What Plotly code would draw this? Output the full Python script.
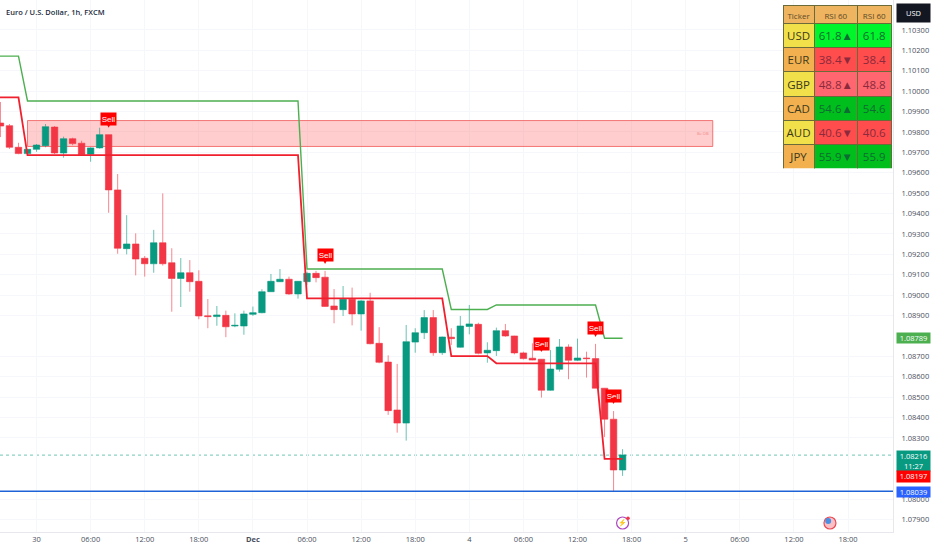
import plotly.graph_objects as go

# hourly bars, index 0 is Nov 30 00:00 (weekend is collapsed like on the source chart)
bar_idx = list(range(-4, 66))
opens = [1.09844,1.09831,1.09725,1.09694,1.09715,1.09733,1.09824,1.09697,1.09767,1.09745,
         1.09691,1.09722,1.09787,1.09516,1.09228,1.09251,1.09181,1.09154,1.09257,1.09159,
         1.09082,1.09110,1.09068,1.08899,1.08895,1.08901,1.08849,1.08849,1.08906,1.08914,
         1.09017,1.09066,1.09078,1.09006,1.09066,1.09107,1.09088,1.08947,1.08929,1.08980,
         1.08908,1.08972,1.08764,1.08672,1.08437,1.08373,1.08770,1.08816,1.08890,1.08718,
         1.08794,1.08745,1.08847,1.08857,1.08717,1.08728,1.08826,1.08800,1.08717,1.08691,
         1.08686,1.08534,1.08637,1.08746,1.08681,1.08692,1.08689,1.08544,1.08392,1.08143]
highs = [1.09947,1.09839,1.09747,1.09715,1.09741,1.09839,1.09829,1.09777,1.09772,1.09757,
         1.09725,1.09821,1.09787,1.09594,1.09392,1.09303,1.09192,1.09320,1.09499,1.09230,
         1.09182,1.09172,1.09122,1.08981,1.08947,1.08924,1.08911,1.08924,1.08944,1.09029,
         1.09104,1.09128,1.09091,1.09069,1.09115,1.09119,1.09119,1.09030,1.09045,1.09037,
         1.08976,1.09012,1.08843,1.08705,1.08663,1.08854,1.08838,1.08927,1.08927,1.08797,
         1.08838,1.08898,1.08952,1.08865,1.08769,1.08841,1.08859,1.08801,1.08723,1.08764,
         1.08687,1.08731,1.08785,1.08759,1.08787,1.08723,1.08761,1.08545,1.08432,1.08245]
lows = [1.09775,1.09717,1.09691,1.09687,1.09703,1.09725,1.09692,1.09674,1.09735,1.09686,
        1.09654,1.09718,1.09404,1.09203,1.09200,1.09097,1.09091,1.09110,1.09145,1.08919,
        1.08942,1.09017,1.08882,1.08838,1.08850,1.08794,1.08843,1.08806,1.08898,1.08911,
        1.09016,1.09065,1.09001,1.08983,1.09050,1.09063,1.08943,1.08862,1.08898,1.08852,
        1.08826,1.08759,1.08666,1.08413,1.08326,1.08287,1.08718,1.08785,1.08703,1.08707,
        1.08756,1.08743,1.08808,1.08710,1.08669,1.08702,1.08796,1.08710,1.08685,1.08681,
        1.08498,1.08532,1.08625,1.08588,1.08677,1.08596,1.08544,1.08305,1.08037,1.08114]
closes = [1.09829,1.09725,1.09694,1.09715,1.09736,1.09826,1.09697,1.09767,1.09743,1.09689,
          1.09722,1.09787,1.09516,1.09230,1.09251,1.09177,1.09154,1.09257,1.09154,1.09082,
          1.09110,1.09066,1.08898,1.08895,1.08903,1.08845,1.08852,1.08908,1.08914,1.09017,
          1.09068,1.09078,1.09006,1.09068,1.09107,1.09086,1.08945,1.08929,1.08980,1.08908,
          1.08972,1.08762,1.08671,1.08434,1.08373,1.08772,1.08816,1.08890,1.08718,1.08795,
          1.08787,1.08849,1.08859,1.08715,1.08730,1.08826,1.08800,1.08717,1.08689,1.08682,
          1.08534,1.08638,1.08746,1.08681,1.08692,1.08689,1.08544,1.08392,1.08143,1.08217]

# stop lines
line_idx = [-5,-2,-1,29,30,45,46,50,51,62,63,65]
green_line = [1.10172,1.10172,1.09952,1.09952,1.09128,1.09128,1.08930,1.08930,1.08952,1.08952,1.08789,1.08789]
red_line = [1.09970,1.09970,1.09687,1.09687,1.08984,1.08984,1.08701,1.08701,1.08666,1.08666,1.08197,1.08197]

# sell signals
sell_idx = [8,32,56,62,64]
sell_high = [1.09787,1.09119,1.08687,1.08761,1.08432]

# order block zone
zone_start, zone_end = -1, 75
zone_top, zone_bottom = 1.09856, 1.09729

last_price = 1.08216
blue_level = 1.08039

tick_idx = [0,6,12,18,24,30,36,42,48,54,60,66,72,78,84,90]
tick_text = ["30","06:00","12:00","18:00","<b>Dec</b>","06:00","12:00","18:00","4","06:00","12:00","18:00","5","06:00","12:00","18:00"]
# 1.081, 1.082 and 1.088 sit behind the price tags
price_ticks = [1.079,1.080,1.083,1.084,1.085,1.086,1.087,1.089,1.090,1.091,1.092,1.093,1.094,1.095,1.096,1.097,1.098,1.099,1.100,1.101,1.102,1.103]

tickers = ["USD","EUR","GBP","CAD","AUD","JPY"]
rsi_arrow = ["61.8▲","38.4▼","48.8▲","54.6▲","40.6▼","55.9▼"]
rsi_plain = ["61.8","38.4","48.8","54.6","40.6","55.9"]
ticker_fill = ["#f2e04a","#f2b04f","#f2e04a","#f2b04f","#f2e04a","#f2b04f"]
rsi_fill = ["#00f52a","#ff4d4d","#ff6670","#00bf1c","#ff4d4d","#00bf1c"]
rsi_text = ["#0d6b33","#8a2a3c","#8a2a3c","#0d6b33","#8a2a3c","#0d6b33"]

FONT = "Open Sans"
GRID = "#f6f7fa"

fig = go.Figure()

fig.add_trace(go.Candlestick(
    x=bar_idx, open=opens, high=highs, low=lows, close=closes,
    increasing=dict(line=dict(color="rgba(8,153,129,0.6)", width=1), fillcolor="#089981"),
    decreasing=dict(line=dict(color="rgba(242,54,69,0.6)", width=1), fillcolor="#f23645"),
    whiskerwidth=0, showlegend=False,
))
fig.add_trace(go.Scatter(x=line_idx, y=green_line, mode="lines", line=dict(color="#4caf50", width=1.4), showlegend=False))
fig.add_trace(go.Scatter(x=line_idx, y=red_line, mode="lines", line=dict(color="#f0202e", width=1.8), showlegend=False))

# events on the bottom of the pane
fig.add_trace(go.Scatter(x=[65], y=[1.07883], mode="markers+text", text=["⚡"], textposition="middle center",
                         textfont=dict(size=7, color="#ab47bc"),
                         marker=dict(size=12, color="white", line=dict(color="#ab47bc", width=1.2)), showlegend=False))
fig.add_trace(go.Scatter(x=[65.6], y=[1.07907], mode="markers", showlegend=False,
                         marker=dict(size=3.5, color="#f23645")))
fig.add_trace(go.Scatter(x=[88], y=[1.07883], mode="markers", showlegend=False,
                         marker=dict(size=12, color="#f9c0c5", line=dict(color="#e84a55", width=1.2))))
fig.add_trace(go.Scatter(x=[87.8], y=[1.07893], mode="markers", showlegend=False,
                         marker=dict(size=6, color="#4a90e2")))

fig.add_trace(go.Table(
    domain=dict(x=[783/893, 892/893], y=[1-168.5/532, 1-5.3/532]),
    columnwidth=[31.5, 44, 34],
    header=dict(values=["Ticker","RSI\u00a060","RSI\u00a060"], height=18, fill_color="#efb45f",
                line_color="#6b6b3a", align="center", font=dict(family=FONT, size=8, color="#5a4a2a")),
    cells=dict(values=[tickers, rsi_arrow, rsi_plain], height=24.3,
               fill_color=[ticker_fill, rsi_fill, rsi_fill],
               line_color="#6b6b3a", align="center",
               font=dict(family=FONT, size=[11.5,11.5,11.5], color=["#3c3a1e", rsi_text, rsi_text])),
))

annotations = [
    dict(text="Euro / U.S. Dollar, 1h, FXCM", xref="paper", yref="paper", x=0.005, y=1, yshift=-5, xanchor="left",
         yanchor="top", showarrow=False, font=dict(family=FONT, size=7.5, weight=600, color="#222a3c")),
    dict(text="Be OB", x=zone_end, y=(zone_top+zone_bottom)/2, xshift=-2, xanchor="right", showarrow=False,
         font=dict(family=FONT, size=4, color="#f08a8a")),
    dict(text="USD", xref="paper", yref="paper", x=1, xshift=20.5, y=1, yshift=-3, xanchor="center", yanchor="top",
         showarrow=False, bgcolor="#131722", width=31, height=16, font=dict(family=FONT, size=7.5, color="white")),
]
for i, p in zip(sell_idx, sell_high):
    annotations.append(dict(text="Sell", x=i, y=p, ax=0, ay=-15.5, standoff=7, showarrow=True,
                            arrowhead=2, arrowsize=1, arrowwidth=1.2, arrowcolor="#ff0000", bgcolor="#ff0000",
                            width=15, height=12, borderpad=0, font=dict(family="Liberation Sans", size=8, color="white")))
price_tags = [
    ("1.08789", green_line[-1], 0, "#4caf50", 10),
    ("1.08216<br>11:27", last_price, 5, "#089981", 20),
    ("1.08197", red_line[-1], -11, "#ff0000", 10.5),
    ("1.08039", blue_level, 5, "#2962ff", 10),
]
for txt, p, shift, col, h in price_tags:
    annotations.append(dict(text=txt, xref="paper", x=1, xshift=20.5, y=p, yshift=shift, xanchor="center",
                            yanchor="top" if shift else "middle", showarrow=False, bgcolor=col, width=33, height=h,
                            borderpad=0, font=dict(family=FONT, size=7.5, color="white")))

fig.update_layout(
    width=932, height=550, margin=dict(l=0, r=39, t=0, b=18),
    paper_bgcolor="white", plot_bgcolor="white", annotations=annotations,
    font=dict(family=FONT, size=8, color="#4a4f5c"),
    boxgap=0.2, boxgroupgap=0.1,
    shapes=[
        dict(type="rect", x0=zone_start, x1=zone_end, y0=zone_bottom, y1=zone_top, layer="between",
             fillcolor="rgba(255,70,70,0.27)", line=dict(color="rgba(240,80,80,0.75)", width=1)),
        dict(type="line", xref="paper", x0=0, x1=1, y0=last_price, y1=last_price, layer="between",
             line=dict(color="#6fc5b5", width=1, dash="dot")),
        dict(type="line", xref="paper", x0=0, x1=1, y0=blue_level, y1=blue_level,
             line=dict(color="#1e62d8", width=1.6)),
    ],
    xaxis=dict(range=[-4.05, 94.99], tickvals=tick_idx, ticktext=tick_text, rangeslider=dict(visible=False),
               showgrid=True, gridcolor=GRID, gridwidth=1, zeroline=False, ticks="", showline=True,
               linecolor="#e6e8ee", tickfont=dict(family=FONT, size=7.5, color="#4a4f5c")),
    yaxis=dict(side="right", range=[1.07839, 1.10447], tickvals=price_ticks, tickformat=".5f",
               showgrid=True, gridcolor=GRID, gridwidth=1, zeroline=False, ticks="", showline=True,
               ticklabelstandoff=6, linecolor="#e6e8ee", tickfont=dict(family=FONT, size=7.5, color="#4a4f5c")),
)

fig.write_html("out.html", config={"displayModeBar": False}, post_script="document.body.style.margin='0';")
